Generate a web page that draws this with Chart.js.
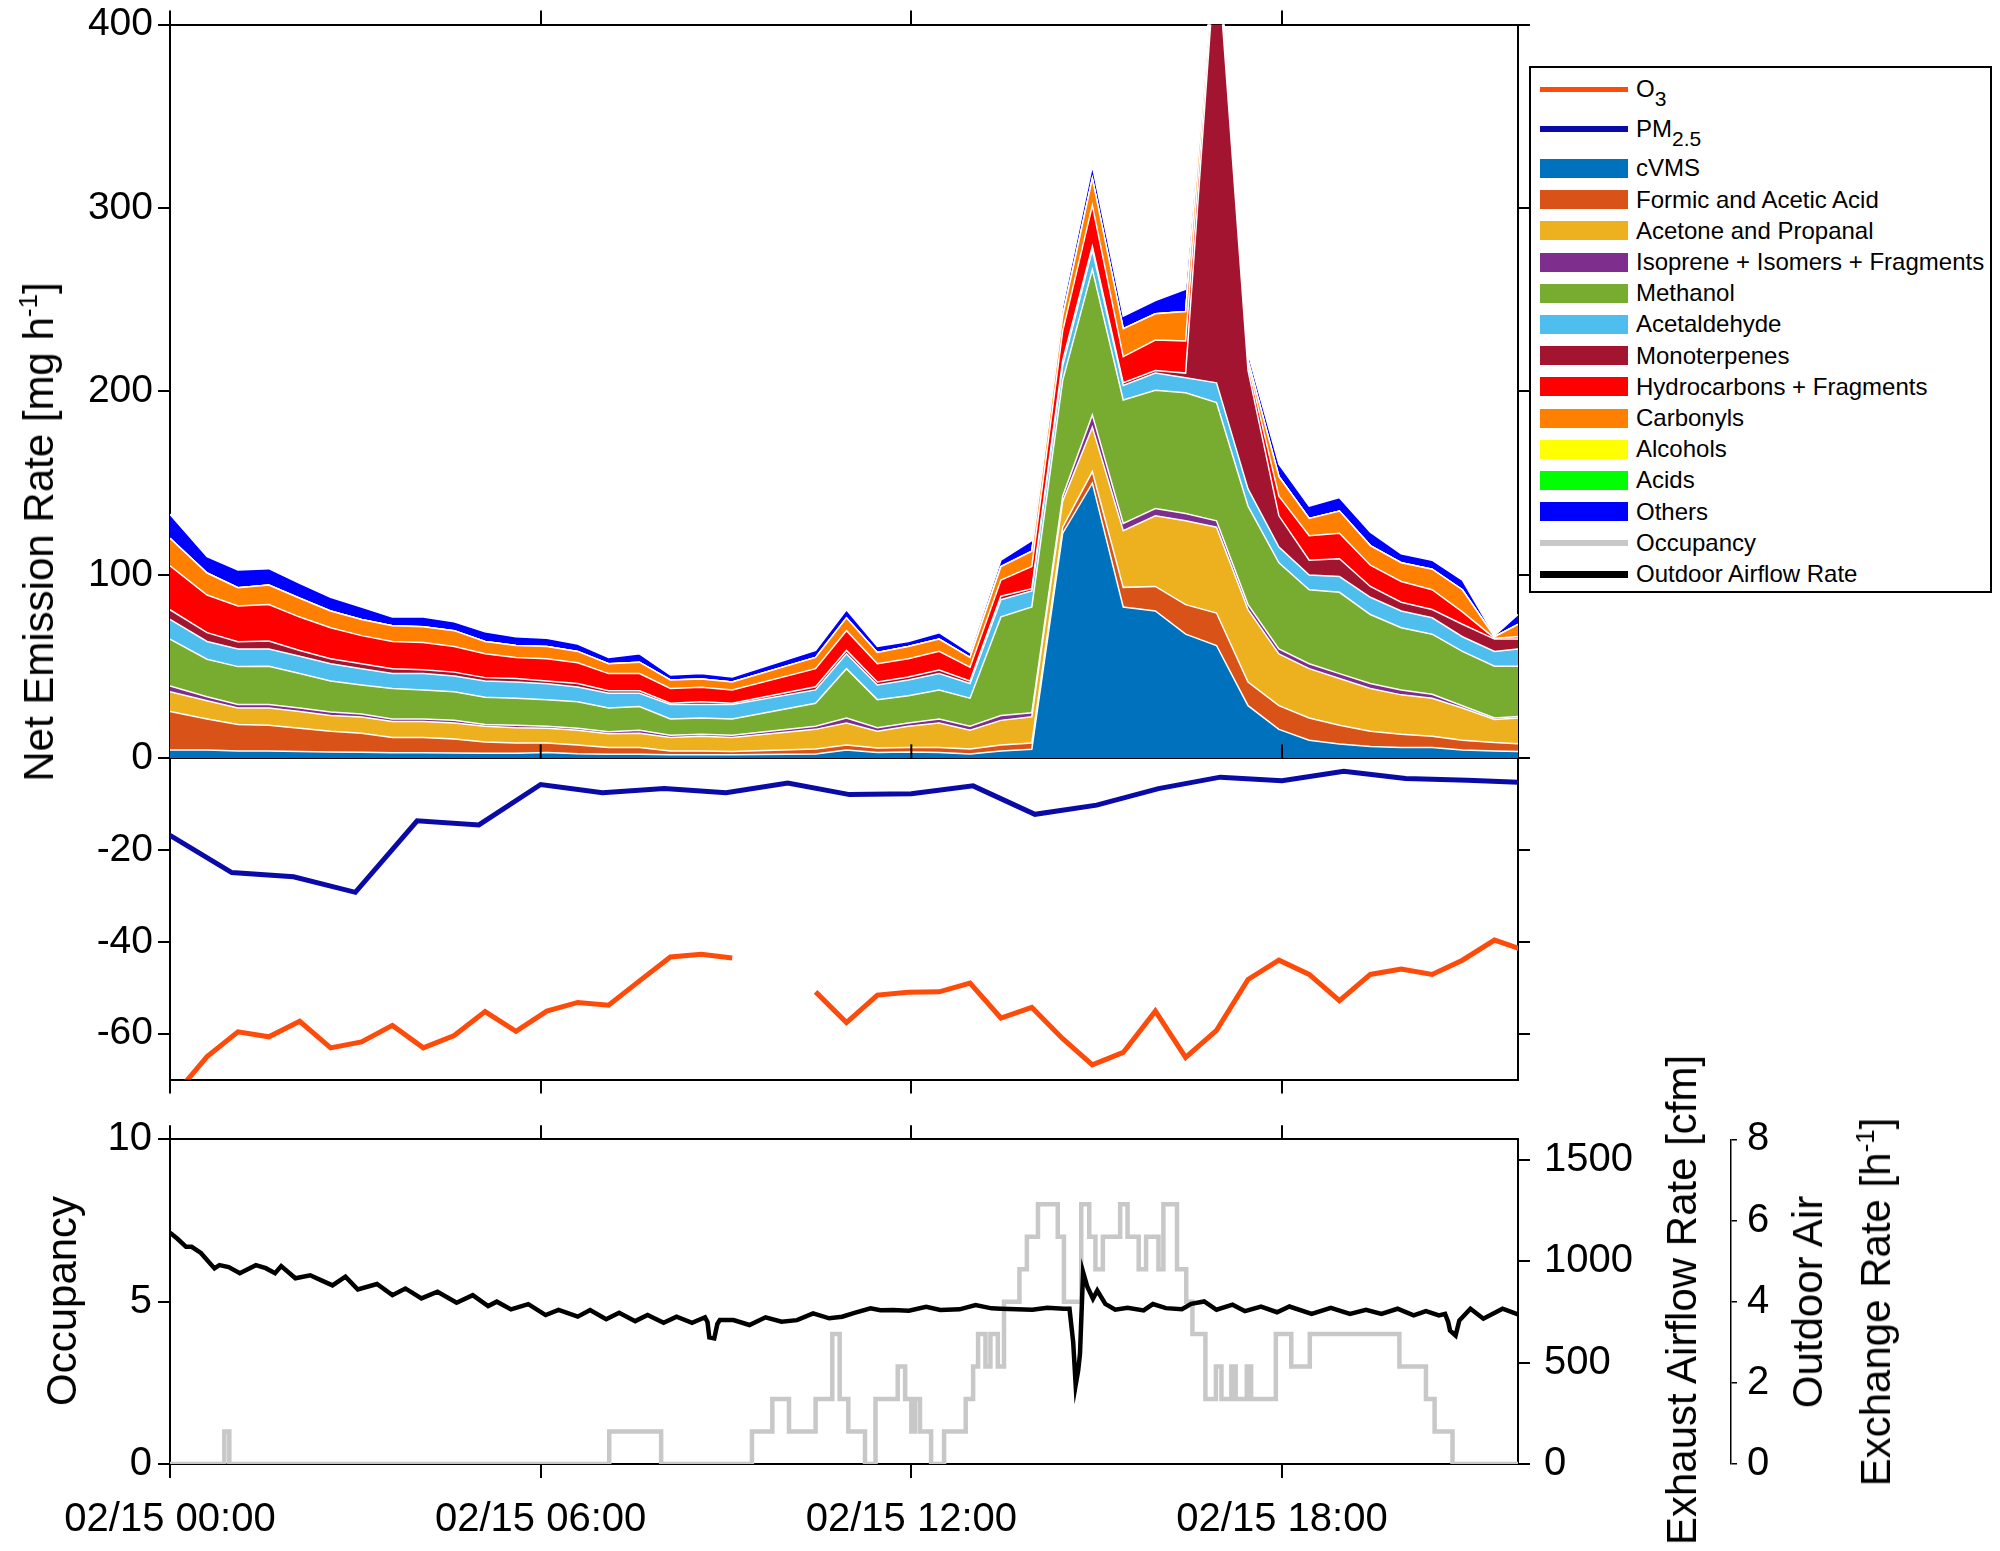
<!DOCTYPE html>
<html>
<head>
<meta charset="utf-8">
<title>Net emission rates, occupancy and outdoor airflow</title>
<script src="https://cdn.jsdelivr.net/npm/chart.js@4.4.1/dist/chart.umd.min.js"></script>
<style>
  html, body { margin: 0; padding: 0; background: #fff; }
  body { position: relative; width: 2000px; height: 1551px; overflow: hidden;
         font-family: 'Liberation Sans', Arial, Helvetica, sans-serif; color: #000; }
  canvas { position: absolute; left: 0; }
  #topCanvas { top: 0; }
  #botCanvas { top: 1104px; }
  .axis-title { position: absolute; white-space: nowrap; font-size: 42px; line-height: 1;
                transform: translate(-50%, -50%) rotate(-90deg); }
  .axis-title sup { font-size: 26px; vertical-align: 16px; line-height: 0; }
  #legend { position: absolute; left: 1529px; top: 66px; width: 463px; height: 527px;
            border: 2px solid #000; box-sizing: border-box; background: #fff; }
  .leg-row { position: absolute; left: 0; width: 100%; height: 30px; }
  .leg-swatch { position: absolute; left: 9px; width: 88px; }
  .leg-text { position: absolute; left: 105px; top: 0; height: 30px; line-height: 30px;
              font-size: 24px; white-space: nowrap; }
  .leg-text sub { font-size: 21px; vertical-align: -9px; line-height: 0; }
</style>
</head>
<body>
<canvas id="topCanvas" width="2000" height="1104"></canvas>
<canvas id="botCanvas" width="2000" height="447"></canvas>
<div class="axis-title" style="left:39px; top:532px;">Net Emission Rate [mg h<sup>-1</sup>]</div>
<div class="axis-title" style="left:62px; top:1301px;">Occupancy</div>
<div class="axis-title" style="left:1682px; top:1300px;">Exhaust Airflow Rate [cfm]</div>
<div class="axis-title" style="left:1808px; top:1302px;">Outdoor Air</div>
<div class="axis-title" style="left:1876px; top:1302px;">Exchange Rate [h<sup>-1</sup>]</div>
<div id="legend"></div>
<script>
// hours after 02/15 00:00
const tMax = 21.82;
const xTickLabels = ['02/15 00:00', '02/15 06:00', '02/15 12:00', '02/15 18:00'];
const airTicks = [0, 500, 1000, 1500];

// stacked net emission rates [mg/h]
const stackTimes = [0, 0.6, 1.1, 1.6, 2.1, 2.6, 3.1, 3.6, 4.1, 4.6, 5.1, 5.6, 6.1, 6.6, 7.1, 7.6, 8.1, 8.6, 9.1,
  10.45, 10.95, 11.45, 11.95, 12.45, 12.95, 13.45, 13.95, 14.45, 14.93, 15.43, 15.95, 16.44, 16.94, 17.45, 17.95,
  18.44, 18.93, 19.43, 19.93, 20.43, 20.92, 21.44, 21.82];
const cvms = [4.6, 4.6, 4, 4, 3.8, 3.5, 3.3, 3, 3, 2.9, 2.8, 2.8, 3.2, 2.5, 2.2, 2.2, 1.9, 1.9, 1.9,
  2.4, 4.6, 3.2, 3.5, 3.2, 2.4, 4, 5, 122.7, 150, 82.5, 80.3, 67.7, 61.5, 28.7, 15.8, 9.9, 7.8, 6.4, 5.9, 5.9, 4.6, 4, 3.8];
const formicAcetic = [20.9, 16.9, 14.5, 14, 12.6, 11.3, 10.4, 8.3, 8.3, 7.6, 6.1, 5.5, 5.1, 4.8, 3.7, 3.7, 2.1, 2.1, 1.9,
  2.7, 2.7, 2.4, 2.4, 2.7, 2.7, 3.3, 3.3, 3.3, 6.3, 10.7, 13.4, 16.1, 17.7, 12.9, 12.9, 12.1, 10.2, 8.4, 7.3, 6.2, 5.3, 4.6, 4.2];
const acetonePropanal = [10.8, 9.9, 8.9, 9.4, 9.1, 8.6, 8.9, 8.8, 8.8, 8.8, 8.6, 8.4, 8.1, 8, 7.5, 7.8, 7.3, 8, 7.5,
  10.7, 12, 9.2, 11.6, 13.4, 10.2, 13.4, 14.4, 14.2, 24.2, 30.9, 38.5, 45.7, 46.8, 39.5, 28.2, 26.9, 25.5, 23.3, 21.4, 20.7, 17.5, 12.6, 14];
const isoprene = [3.2, 2.2, 1.9, 1.9, 1.9, 1.8, 1.6, 1.4, 1.4, 1.4, 1, 1.3, 1.1, 1.1, 1.1, 1.6, 1.3, 1.2, 1.3,
  1.7, 2.7, 1.9, 1.8, 2.2, 2.2, 2.7, 2.1, 2.7, 6.7, 4, 4, 4, 3.5, 2.7, 2.7, 2.7, 2.7, 2.7, 2.7, 2.1, 1.3, 0.8, 0.8];
const methanol = [25.5, 20.4, 20.7, 20.9, 18.8, 17, 15.8, 16.6, 15.8, 15.6, 14.8, 14.8, 14.5, 14.5, 12.9, 12.9, 8.9, 8.8, 8.9,
  12.5, 26.9, 15.3, 14.8, 15.8, 15.3, 53.7, 57.7, 63.1, 79.2, 67.2, 64.4, 65.8, 64.4, 53.7, 47, 40.3, 44.3, 37.6, 33.9, 32.8, 29.6, 28.2, 27.4];
const acetaldehyde = [10.7, 9.7, 9.6, 9.4, 9.4, 9.4, 8.9, 8.1, 8.9, 8.6, 8.9, 8.8, 8.6, 8, 8.1, 7.3, 7.8, 7.3, 7.8,
  7.3, 8.1, 8, 8.6, 8.9, 8, 9.4, 8.7, 8, 10.8, 8, 9.4, 8.1, 10.8, 9.4, 8.6, 8, 8.6, 9.4, 9.1, 8.9, 8, 8.1, 9.4];
const monoterpenes = [5.3, 4.8, 4, 4.4, 3.2, 2.7, 2.7, 2.7, 2.1, 2.1, 1.8, 1.9, 1.6, 1.9, 1.3, 1.3, 0.7, 1.6, 0.7,
  1.7, 1.8, 1.6, 1.6, 1.9, 1.4, 1.9, 1.3, 2.8, 1.8, 1.4, 1.4, 2.6, 240.3, 64.5, 17, 8.1, 9.7, 5.9, 4.8, 4.5, 6.8, 6.7, 5.4];
const hydrocarbons = [24, 20.5, 19.4, 19.8, 18.2, 16.9, 15.3, 14.8, 14.8, 14, 13, 11.5, 12.1, 11.3, 9.4, 9.4, 8.1, 7.8, 7.3,
  9.9, 10.8, 10, 10, 10.2, 7.5, 8.8, 12.1, 16.2, 22.4, 14.2, 16.6, 17.5, 4, 3.2, 10.7, 13.4, 13.9, 11.6, 11.3, 10.8, 6.7, 0.5, 1.3];
const carbonyls = [15, 12, 10, 10.7, 10.3, 9.1, 8.8, 8.6, 8.6, 8.6, 6.7, 6.5, 6.7, 6.2, 5.4, 6.2, 4.6, 4.5, 4.3,
  6.1, 7, 6.1, 6.7, 6.7, 5.3, 7.3, 8.3, 8, 14.7, 15.3, 14.3, 16.1, 4, 2.2, 10.7, 9.4, 12.1, 10.7, 10.2, 11.2, 12.1, 0.8, 6.7];
const alcohols = [0, 0, 0, 0, 0, 0, 0, 0, 0, 0, 0, 0, 0, 0, 0, 0, 0, 0, 0,
  0, 0, 0, 0, 0, 0, 0, 0, 0, 0, 0, 0, 0, 0, 0, 0, 0, 0, 0, 0, 0, 0, 0, 0];
const acids = [0, 0, 0, 0, 0, 0, 0, 0, 0, 0, 0, 0, 0, 0, 0, 0, 0, 0, 0,
  0, 0, 0, 0, 0, 0, 0, 0, 0, 0, 0, 0, 0, 0, 0, 0, 0, 0, 0, 0, 0, 0, 0, 0];
const others = [13, 9, 9.6, 8.9, 8.1, 7.5, 6.8, 4.8, 5.4, 4.8, 5.3, 4.8, 4.5, 4, 3.4, 4.6, 2.7, 3, 2.7,
  3.8, 4.4, 3.3, 2.7, 3.5, 2.7, 3.5, 5.8, 5.3, 6.8, 6.8, 7.2, 12.1, 3, 4, 6.8, 6.7, 7.3, 7.3, 4.9, 4.9, 5.3, 0.6, 5.4];

const stackNames = ['cVMS', 'Formic and Acetic Acid', 'Acetone and Propanal', 'Isoprene + Isomers + Fragments',
  'Methanol', 'Acetaldehyde', 'Monoterpenes', 'Hydrocarbons + Fragments', 'Carbonyls', 'Alcohols', 'Acids', 'Others'];
const stackColors = ['#0072BD', '#D95319', '#EDB120', '#7E2F8E', '#77AC30', '#4DBEEE', '#A2142F',
  '#FF0000', '#FF8000', '#FFFF00', '#00FF00', '#0000FF'];
const stackSeries = [cvms, formicAcetic, acetonePropanal, isoprene, methanol, acetaldehyde, monoterpenes,
  hydrocarbons, carbonyls, alcohols, acids, others];

// O3 and PM2.5 net rates (negative part of the top axis)
const o3Times = [0.1, 0.6, 1.1, 1.6, 2.1, 2.6, 3.1, 3.6, 4.1, 4.6, 5.1, 5.6, 6.1, 6.6, 7.1, 7.6, 8.1, 8.6, 9.1, 9.55, 10.0,
  10.45, 10.95, 11.45, 11.95, 12.45, 12.95, 13.45, 13.95, 14.45, 14.93, 15.43, 15.95, 16.44, 16.94, 17.45, 17.95,
  18.44, 18.93, 19.43, 19.93, 20.43, 20.92, 21.44, 21.93];
const o3 = [-73, -65, -59.6, -60.7, -57.3, -63.1, -61.8, -58.2, -63.1, -60.4, -55.2, -59.5, -55.1, -53.2, -53.8, -48.5,
  -43.3, -42.7, -43.5, null, null, -50.9, -57.6, -51.6, -51.0, -50.9, -49.0, -56.6, -54.3, -61.1, -66.8, -64.1, -55.1,
  -65.2, -59.3, -48.2, -44.0, -47.1, -52.8, -47.1, -45.9, -47.1, -44.0, -39.6, -41.9];
const pmTimes = [0, 1, 2, 3, 4, 5, 6, 7, 8, 9, 10, 11, 12, 13, 14, 15, 16, 17, 18, 19, 20, 21, 21.82];
const pm25 = [-16.8, -24.9, -25.8, -29.2, -13.6, -14.5, -5.7, -7.5, -6.6, -7.5, -5.4, -7.9, -7.7, -6.0, -12.2, -10.2,
  -6.6, -4.1, -4.9, -2.8, -4.4, -4.8, -5.2];

// bottom panel: occupancy (value holds until the next change) and exhaust/outdoor airflow [cfm]
const occTimes = [0, 0.88, 0.96, 7.11, 7.95, 9.42, 9.75, 10.02, 10.45, 10.72, 10.84, 10.98, 11.25, 11.42, 11.78, 11.9,
  12.0, 12.06, 12.14, 12.32, 12.53, 12.88, 13.0, 13.08, 13.2, 13.28, 13.4, 13.5, 13.75, 13.87, 14.05, 14.37, 14.47,
  14.75, 14.88, 14.98, 15.1, 15.38, 15.5, 15.68, 15.8, 16.0, 16.08, 16.3, 16.45, 16.55, 16.76, 16.93, 17.02, 17.18,
  17.25, 17.43, 17.5, 17.9, 18.15, 18.45, 19.9, 20.33, 20.47, 20.76, 21.82];
const occupancy = [0, 1, 0, 1, 0, 1, 2, 1, 2, 4, 2, 1, 0, 2, 3, 2,
  1, 2, 1, 0, 1, 2, 3, 4, 3, 4, 3, 5, 6, 7, 8, 7, 5,
  8, 7, 6, 7, 8, 7, 6, 7, 6, 8, 6, 5, 4, 2, 3, 2, 3,
  2, 3, 2, 4, 3, 4, 3, 2, 1, 0, 0];
const airTimes = [0, 0.12, 0.26, 0.35, 0.5, 0.72, 0.8, 0.95, 1.13, 1.39, 1.55, 1.7, 1.8, 2.03, 2.27, 2.45, 2.63, 2.84,
  3.04, 3.35, 3.6, 3.81, 4.07, 4.33, 4.64, 4.9, 5.15, 5.29, 5.52, 5.8, 6.08, 6.29, 6.6, 6.8, 7.06, 7.27, 7.53, 7.73,
  7.99, 8.2, 8.45, 8.66, 8.7, 8.73, 8.81, 8.86, 8.9, 9.12, 9.38, 9.64, 9.9, 10.15, 10.41, 10.67, 10.88, 11.08, 11.34,
  11.5, 11.7, 11.96, 12.24, 12.47, 12.78, 13.04, 13.3, 13.45, 13.96, 14.2, 14.47, 14.56, 14.62, 14.66, 14.7, 14.73,
  14.78, 14.85, 14.94, 15.01, 15.14, 15.3, 15.5, 15.76, 15.91, 16.12, 16.38, 16.53, 16.74, 16.94, 17.2, 17.4, 17.66,
  17.92, 18.12, 18.48, 18.79, 19.1, 19.36, 19.61, 19.87, 20.13, 20.33, 20.54, 20.64, 20.69, 20.72, 20.81, 20.87,
  21.05, 21.26, 21.57, 21.82];
const airflow = [1140, 1110, 1070, 1070, 1040, 964, 980, 970, 940, 980, 965, 940, 975, 915, 930, 905, 880, 923,
  860, 887, 832, 865, 816, 849, 795, 832, 778, 800, 762, 788, 734, 759, 726, 759, 713, 745, 704, 734,
  696, 726, 696, 723, 700, 624, 619, 690, 709, 709, 685, 723, 701, 709, 742, 718, 726, 745, 767,
  758, 759, 755, 775, 759, 762, 783, 767, 765, 760, 770, 765, 765, 600, 390, 460, 543,
  946, 872, 814, 855, 789, 760, 770, 757, 788, 768, 763, 789, 801, 760, 785, 753, 776,
  748, 776, 740, 770, 740, 760, 740, 765, 732, 753, 732, 740, 700, 658, 633, 707,
  765, 716, 765, 737];

const o3Color = '#FF4B0A';
const pmColor = '#0A0AA8';
const occColor = '#C8C8C8';
const airColor = '#000000';

Chart.defaults.font.family = "'Liberation Sans', Arial, Helvetica, sans-serif";
Chart.defaults.color = '#000';

const pts = (xs, ys) => xs.map((x, i) => ({ x: x, y: ys[i] }));
const black = '#000';
const axisBorder = { display: true, color: black, width: 2 };

// ---------- top chart: stacked emissions over O3 / PM2.5 ----------
const stackSets = stackSeries.map((vals, i) => ({
  label: stackNames[i],
  data: pts(stackTimes, vals),
  yAxisID: 'y',
  backgroundColor: stackColors[i],
  borderColor: '#fff',
  borderWidth: 1.5,
  fill: i === 0 ? 'origin' : '-1',
  pointRadius: 0
}));

// small outward ticks of the lower axes along the zero line
const zeroLineTicks = {
  id: 'zeroLineTicks',
  afterDatasetsDraw(chart) {
    const { ctx, scales } = chart;
    const y0 = scales.yLow.getPixelForValue(0);
    ctx.save();
    ctx.strokeStyle = black;
    ctx.lineWidth = 2;
    scales.x.ticks.forEach(t => {
      if (t.value <= 0 || t.value >= tMax) return;
      const px = scales.x.getPixelForValue(t.value);
      ctx.beginPath();
      ctx.moveTo(px, y0);
      ctx.lineTo(px, y0 - 14);
      ctx.stroke();
    });
    ctx.restore();
  }
};

new Chart(document.getElementById('topCanvas'), {
  type: 'line',
  data: {
    datasets: stackSets.concat([
      { label: 'PM2.5', data: pts(pmTimes, pm25), yAxisID: 'yLow', borderColor: pmColor, borderWidth: 5,
        fill: false, pointRadius: 0 },
      { label: 'O3', data: pts(o3Times, o3), yAxisID: 'yLow', borderColor: o3Color, borderWidth: 5,
        fill: false, pointRadius: 0, spanGaps: false }
    ])
  },
  options: {
    responsive: false,
    animation: false,
    devicePixelRatio: 1,
    layout: { padding: 0 },
    elements: { line: { tension: 0 } },
    plugins: { legend: { display: false }, tooltip: { enabled: false } },
    scales: {
      x: {
        type: 'linear', position: 'bottom', min: 0, max: tMax,
        ticks: { display: false, stepSize: 6, includeBounds: false },
        grid: { drawOnChartArea: false, tickLength: 14, color: black, lineWidth: 2 },
        border: axisBorder,
        afterFit: s => { s.height = 20; }
      },
      xTop: {
        type: 'linear', position: 'top', min: 0, max: tMax,
        ticks: { display: false, stepSize: 6, includeBounds: false },
        grid: { drawOnChartArea: false, tickLength: 14, color: black, lineWidth: 2 },
        border: axisBorder,
        afterFit: s => { s.height = 19; }
      },
      y: {
        type: 'linear', position: 'left', stack: 'left', stackWeight: 741.5, weight: 2,
        min: 0, max: 400, stacked: true,
        ticks: { stepSize: 100, padding: 5, font: { size: 39, lineHeight: 1 },
                 callback: v => (v === 0 ? null : v) },
        grid: { drawOnChartArea: false, tickLength: 12, color: black, lineWidth: 2 },
        border: axisBorder,
        afterFit: s => { s.width = 170; }
      },
      yLow: {
        type: 'linear', position: 'left', stack: 'left', stackWeight: 324.5, weight: 1,
        min: -70, max: 0, z: 1,
        ticks: { stepSize: 20, includeBounds: false, padding: 5, font: { size: 39, lineHeight: 1 } },
        grid: {
          drawOnChartArea: true, tickLength: 12, lineWidth: 2, tickColor: black,
          color: c => (c.tick && c.tick.value === 0 ? black : 'rgba(0,0,0,0)')
        },
        border: axisBorder,
        afterFit: s => { s.width = 170; }
      },
      yR: {
        type: 'linear', position: 'right', stack: 'right', stackWeight: 741.5, weight: 1,
        min: 0, max: 400,
        ticks: { display: false, stepSize: 100 },
        grid: { drawOnChartArea: false, tickLength: 12, color: black, lineWidth: 2 },
        border: axisBorder,
        afterFit: s => { s.width = 482; }
      },
      yLowR: {
        type: 'linear', position: 'right', stack: 'right', stackWeight: 324.5, weight: 2,
        min: -70, max: 0,
        ticks: { display: false, stepSize: 20, includeBounds: false },
        grid: { drawOnChartArea: false, tickLength: 12, color: black, lineWidth: 2 },
        border: axisBorder,
        afterFit: s => { s.width = 482; }
      }
    }
  },
  plugins: [zeroLineTicks]
});

// ---------- bottom chart: occupancy and airflow ----------
new Chart(document.getElementById('botCanvas'), {
  type: 'line',
  data: {
    datasets: [
      { label: 'Outdoor Airflow Rate', data: pts(airTimes, airflow), yAxisID: 'yA', borderColor: airColor,
        borderWidth: 4.5, pointRadius: 0, fill: false, order: 0 },
      { label: 'Occupancy', data: pts(occTimes, occupancy), yAxisID: 'y', borderColor: occColor,
        borderWidth: 4.5, pointRadius: 0, fill: false, stepped: 'before', order: 1 }
    ]
  },
  options: {
    responsive: false,
    animation: false,
    devicePixelRatio: 1,
    layout: { padding: 0 },
    elements: { line: { tension: 0 } },
    plugins: { legend: { display: false }, tooltip: { enabled: false } },
    scales: {
      x: {
        type: 'linear', position: 'bottom', min: 0, max: tMax,
        ticks: { stepSize: 6, includeBounds: false, maxRotation: 0, autoSkip: false, padding: 22,
                 font: { size: 40, lineHeight: 1 },
                 callback: v => xTickLabels[Math.round(v / 6)] },
        grid: { drawOnChartArea: false, tickLength: 14, color: black, lineWidth: 2 },
        border: axisBorder,
        afterFit: s => { s.height = 87; }
      },
      xTop: {
        type: 'linear', position: 'top', min: 0, max: tMax,
        ticks: { display: false, stepSize: 6, includeBounds: false },
        grid: { drawOnChartArea: false, tickLength: 14, color: black, lineWidth: 2 },
        border: axisBorder,
        afterFit: s => { s.height = 35.3; }
      },
      y: {
        type: 'linear', position: 'left', min: 0, max: 10,
        ticks: { stepSize: 5, padding: 6, font: { size: 40, lineHeight: 1 } },
        grid: { drawOnChartArea: false, tickLength: 12, color: black, lineWidth: 2 },
        border: axisBorder,
        afterFit: s => { s.width = 170; }
      },
      yA: {
        type: 'linear', position: 'right', min: 0, max: 1600, weight: 1,
        afterBuildTicks: s => { s.ticks = airTicks.map(v => ({ value: v })); },
        ticks: { padding: 14, font: { size: 40, lineHeight: 1 }, callback: v => String(v) },
        grid: { drawOnChartArea: false, tickLength: 12, color: black, lineWidth: 2 },
        border: axisBorder,
        afterFit: s => { s.width = 213; }
      },
      yE: {
        type: 'linear', position: 'right', min: 0, max: 8, weight: 2, display: true,
        ticks: { stepSize: 2, padding: 10, font: { size: 40, lineHeight: 1 } },
        grid: { drawOnChartArea: false, tickLength: 6, color: black, lineWidth: 1.5 },
        border: { display: true, color: black, width: 1.5 },
        afterFit: s => { s.width = 269; }
      }
    }
  }
});

// ---------- legend (shared by both panels) ----------
const legendRows = [
  { html: 'O<sub>3</sub>', color: o3Color, kind: 'line', w: 5 },
  { html: 'PM<sub>2.5</sub>', color: pmColor, kind: 'line', w: 6 }
].concat(stackNames.map((n, i) => ({ html: n, color: stackColors[i], kind: 'box' })))
 .concat([
  { html: 'Occupancy', color: occColor, kind: 'line', w: 6 },
  { html: 'Outdoor Airflow Rate', color: airColor, kind: 'line', w: 7 }
]);

const legendBox = document.getElementById('legend');
legendRows.forEach((item, i) => {
  const centre = i === 0 ? 21 : i === 1 ? 61 : 100.4 + (i - 2) * 31.2;
  const row = document.createElement('div');
  row.className = 'leg-row';
  row.style.top = (centre - 15) + 'px';
  const sw = document.createElement('div');
  sw.className = 'leg-swatch';
  const h = item.kind === 'box' ? 19 : item.w;
  sw.style.height = h + 'px';
  sw.style.top = (15 - h / 2) + 'px';
  sw.style.background = item.color;
  const tx = document.createElement('div');
  tx.className = 'leg-text';
  tx.innerHTML = item.html;
  row.appendChild(sw);
  row.appendChild(tx);
  legendBox.appendChild(row);
});
</script>
</body>
</html>
